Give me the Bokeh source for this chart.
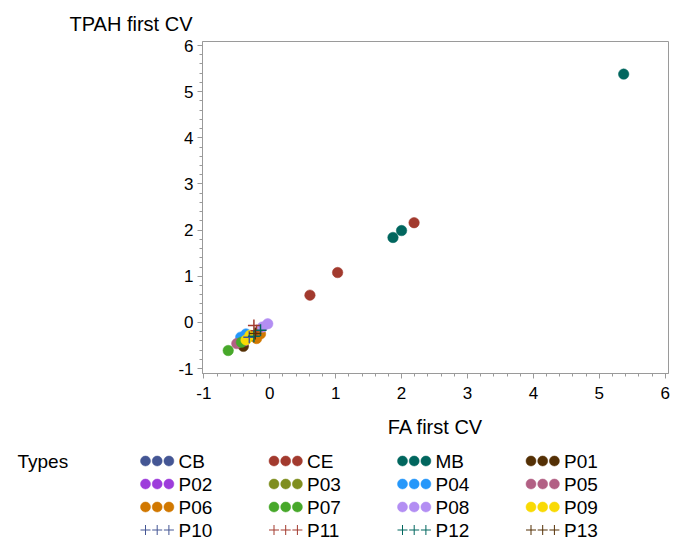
from bokeh.plotting import figure
from bokeh.models import Range1d, SingleIntervalTicker, ColumnDataSource
from bokeh.layouts import column
from bokeh.embed import file_html
from bokeh.resources import INLINE
from bokeh.core.properties import value

# ---------------- data ----------------
types = ["CB", "CE", "MB", "P01", "P02", "P03", "P04", "P05",
         "P06", "P07", "P08", "P09", "P10", "P11", "P12", "P13"]
type_colors = ["#445694", "#A23A2E", "#01665E", "#543005",
               "#9D3CDB", "#7F8E1F", "#2597FA", "#B26084",
               "#D17800", "#47A82A", "#B38EF3", "#F9DA04",
               "#445694", "#A23A2E", "#01665E", "#543005"]
type_markers = ["circle"] * 12 + ["cross"] * 4

point_type = ["CB", "CE", "CE", "CE", "MB", "MB", "MB",
              "P01", "P02", "P03", "P04", "P04", "P05",
              "P06", "P06", "P07", "P07", "P08", "P08",
              "P09", "P09", "P10", "P11", "P11", "P12", "P12", "P13"]
fa_first_cv = [-0.42, 2.19, 1.03, 0.61, 5.37, 2.00, 1.87,
               -0.40, -0.38, -0.30, -0.44, -0.36, -0.50,
               -0.20, -0.14, -0.63, -0.43, -0.03, -0.11,
               -0.36, -0.30, -0.31, -0.24, -0.20, -0.24, -0.14, -0.22]
tpah_first_cv = [-0.45, 2.16, 1.08, 0.59, 5.38, 1.99, 1.84,
                 -0.52, -0.40, -0.30, -0.32, -0.25, -0.46,
                 -0.35, -0.25, -0.61, -0.43, -0.03, -0.10,
                 -0.38, -0.28, -0.32, -0.07, -0.18, -0.30, -0.17, -0.24]
tick_values = [-1, 0, 1, 2, 3, 4, 5, 6]
tick_labels = ["-1", "0", "1", "2", "3", "4", "5", "6"]

FONT = "Liberation Sans"
AXIS_GRAY = "#9a9a9a"

W = 678
H1, H2 = 447, 92
FL, FR, FT, FB = 202, 668, 41, 373          # frame edges (pixels)

# ---------------- main plot ----------------
p = figure(width=W, height=H1, output_backend="svg", toolbar_location=None,
           x_range=Range1d(-1.02, 6.05), y_range=Range1d(-1.108, 6.087),
           min_border_left=FL, min_border_right=W - FR,
           min_border_top=FT, min_border_bottom=H1 - FB)
p.background_fill_color = "white"
p.border_fill_color = "white"
p.outline_line_color = AXIS_GRAY
p.grid.visible = False

p.title.text = "TPAH first CV"
p.title.align = "left"
p.title.offset = -133
p.title.standoff = 14
p.title.text_font = FONT
p.title.text_font_size = "20px"
p.title.text_font_style = "normal"
p.title.text_color = "black"

for ax in (p.xaxis[0], p.yaxis[0]):
    ax.ticker = SingleIntervalTicker(interval=1, num_minor_ticks=5)
    ax.major_label_overrides = {v: s for v, s in zip(tick_values, tick_labels)}
    ax.axis_line_color = AXIS_GRAY
    ax.major_tick_line_color = AXIS_GRAY
    ax.minor_tick_line_color = AXIS_GRAY
    ax.major_tick_out = 5
    ax.major_tick_in = 0
    ax.minor_tick_out = 3
    ax.minor_tick_in = 0
    ax.major_label_text_font = FONT
    ax.major_label_text_font_size = "17px"
    ax.major_label_text_color = "black"
    ax.axis_label_text_font = FONT
    ax.axis_label_text_font_size = "20px"
    ax.axis_label_text_font_style = "normal"
    ax.axis_label_text_color = "black"

p.xaxis.axis_label = "FA first CV"
p.xaxis.major_label_standoff = 8
p.xaxis.axis_label_standoff = 14
p.yaxis.major_label_standoff = 4

for t, c, m in zip(types, type_colors, type_markers):
    xs = [x for x, g in zip(fa_first_cv, point_type) if g == t]
    ys = [y for y, g in zip(tpah_first_cv, point_type) if g == t]
    src = ColumnDataSource(dict(x=xs, y=ys))
    if m == "circle":
        p.scatter("x", "y", source=src, marker="circle", size=10.5,
                  fill_color=c, line_color=c, line_width=0.5)
    else:
        p.scatter("x", "y", source=src, marker="cross", size=12,
                  line_color=c, line_width=1.5)

# ---------------- legend (separate strip below) ----------------
lg = figure(width=W, height=H2, output_backend="svg", toolbar_location=None,
            x_range=Range1d(0, W), y_range=Range1d(H2, 0),
            min_border_left=0, min_border_right=0,
            min_border_top=0, min_border_bottom=0)
lg.xaxis.visible = False
lg.yaxis.visible = False
lg.grid.visible = False
lg.outline_line_color = None
lg.background_fill_color = "white"
lg.border_fill_color = "white"

row_y0, row_dy = 13.5, 23
col_x0, col_dx = 145, 128.5
dot_dx = 11.7
text_dx = 33

lg.text(x=[17], y=[row_y0], text=["Types"], text_font=value(FONT),
        text_font_size="19px", text_baseline="middle", text_color="black")

for i, (t, c, m) in enumerate(zip(types, type_colors, type_markers)):
    r, k = divmod(i, 4)
    x0 = col_x0 + k * col_dx
    y0 = row_y0 + r * row_dy
    mx = [x0 + j * dot_dx for j in range(3)]
    my = [y0] * 3
    if m == "circle":
        lg.scatter(mx, my, marker="circle", size=10, fill_color=c,
                   line_color=c, line_width=0.5)
    else:
        lg.scatter(mx, my, marker="cross", size=10, line_color=c, line_width=1)
    lg.text(x=[x0 + text_dx], y=[y0], text=[t], text_font=value(FONT),
            text_font_size="19px", text_baseline="middle", text_color="black")

layout = column(p, column(lg, spacing=0), spacing=0)
open("out.html", "w").write(file_html(layout, INLINE))
